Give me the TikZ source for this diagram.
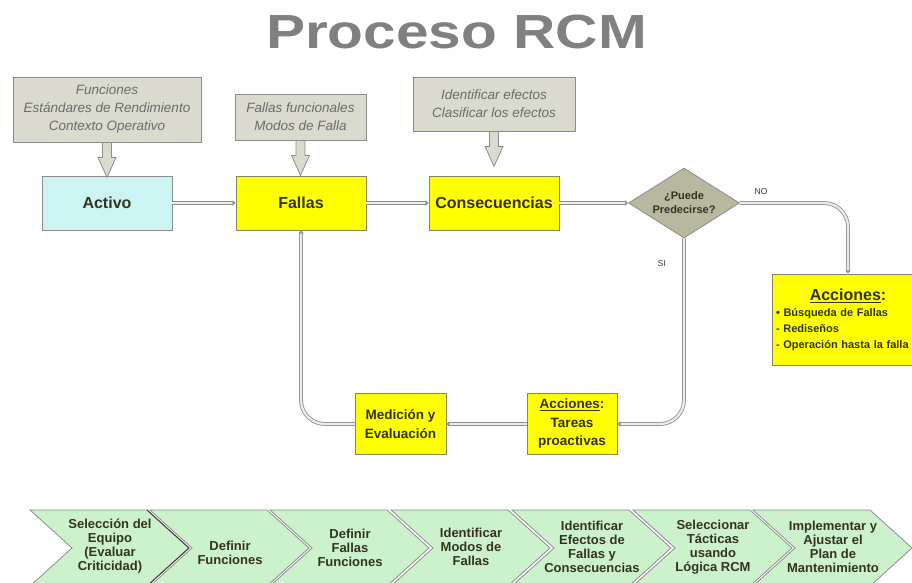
\documentclass[tikz,border=0pt]{standalone}
\usepackage{fontspec}
\setmainfont{Liberation Sans}
\usepackage{graphicx}
\usetikzlibrary{shapes.geometric,arrows.meta}

\definecolor{grisborde}{HTML}{8C8C8C}
\definecolor{grisfondo}{HTML}{DADACE}
\definecolor{gristexto}{HTML}{6B6B6B}
\definecolor{cian}{HTML}{CCF4F2}
\definecolor{amarillo}{HTML}{FFFF00}
\definecolor{oliva}{HTML}{85855F}
\definecolor{caqui}{HTML}{B8B89F}
\definecolor{verde}{HTML}{CCF2CC}
\definecolor{oscuro}{HTML}{33331F}
\definecolor{titulo}{HTML}{808080}

\tikzset{
  nota/.style={draw=grisborde, fill=grisfondo, line width=0.8pt, text=gristexto,
    font=\fontsize{13.5}{18}\selectfont\itshape, align=center, inner sep=0pt},
  caja/.style={draw=grisborde, line width=0.8pt, text=oscuro,
    font=\fontsize{16}{19}\selectfont\bfseries, align=center, inner sep=0pt},
  amarilla/.style={caja, fill=amarillo, draw=oliva},
  bloque/.style={draw=grisborde, fill=grisfondo, line width=0.8pt},
  conector/.style={draw=gray!90, double=gray!15, line width=0.8pt, double distance=2.2pt,
    rounded corners=24pt, -{Latex[length=3pt,width=6pt]}},
  etapa/.style={draw=grisborde, fill=verde, line width=0.8pt},
  etiqueta/.style={text=oscuro, font=\fontsize{13}{14}\selectfont\bfseries, align=center},
  rotulo/.style={text=oscuro, font=\fontsize{8.5}{10}\selectfont},
}

\begin{document}
\begin{tikzpicture}[x=1pt, y=-1pt]
    \useasboundingbox (0,0) rectangle (912,583);

    \node[anchor=base, text=titulo, font=\fontsize{48}{48}\selectfont\bfseries] (titulo) at (456.5,49) {\scalebox{1.22}[1]{Proceso RCM}};

    % notas de entrada
    \node[nota, minimum width=188, minimum height=65] (funciones) at (107,109.5) {Funciones\\Estándares de Rendimiento\\Contexto Operativo};
    \node[nota, minimum width=131, minimum height=46] (modos) at (300.5,117) {Fallas funcionales\\Modos de Falla};
    \node[nota, minimum width=162, minimum height=54] (efectos) at (494,104) {Identificar efectos\\Clasificar los efectos};

    % cajas principales
    \node[caja, fill=cian, minimum width=130, minimum height=54] (activo) at (107,203) {Activo};
    \node[amarilla, minimum width=130, minimum height=54] (fallas) at (301,203) {Fallas};
    \node[amarilla, minimum width=130, minimum height=54] (consec) at (494,203) {Consecuencias};
    \node[diamond, aspect=1.6, draw=grisborde, fill=caqui, line width=0.8pt, minimum width=111, minimum height=70, inner sep=0pt,
        text=oscuro, font=\fontsize{11}{14}\selectfont\bfseries, align=center] (predecir) at (684,203) {¿Puede\\Predecirse?};
    \node[amarilla, font=\fontsize{13.5}{18.5}\selectfont\bfseries, minimum width=91, minimum height=61] (medicion) at (400.5,424) {Medición y\\Evaluación};
    \node[amarilla, font=\fontsize{13.5}{18.5}\selectfont\bfseries, minimum width=90, minimum height=61] (tareas) at (572,424) {\underline{Acciones}:\\Tareas\\proactivas};
    \node[amarilla, minimum width=152, minimum height=91, text width=144, align=left,
        font=\fontsize{11}{16}\selectfont\bfseries] (acciones) at (848,319.5)
        {{\centering\fontsize{16}{22}\selectfont\underline{Acciones}:\par}
         • Búsqueda de Fallas\\- Rediseños\\- Operación hasta la falla};

    % flechas huecas
    \foreach \n in {funciones,modos,efectos}
        \draw[bloque] ([xshift=-4.5pt]\n.south) -- ++(0,15) -- ++(-4.5,0) -- ++(9,20) -- ++(9,-20) -- ++(-4.5,0) -- ++(0,-15) -- cycle;

    % conectores
    \draw[conector] (activo.east) -- (fallas.west);
    \draw[conector] (fallas.east) -- (consec.west);
    \draw[conector] (consec.east) -- (predecir.west);
    \draw[conector] (predecir.east) -| (acciones.north);
    \draw[conector] (predecir.south) |- (tareas.east);
    \draw[conector] (tareas.west) -- (medicion.east);
    \draw[conector] (medicion.west) -| (fallas.south);

    \node[rotulo] (no) at (761,192) {NO};
    \node[rotulo] (si) at (662,264) {SI};

    % etapas del proceso
    \foreach \x/\y/\t [count=\k] in {30/546/{Selección del\\Equipo\\(Evaluar\\Criticidad)}, 150/553/{Definir\\Funciones},
            270/548/{Definir\\Fallas\\Funciones}, 391/547/{Identificar\\Modos de\\Fallas},
            512/547/{Identificar\\Efectos de\\Fallas y\\Consecuencias}, 633/547/{Seleccionar\\Tácticas\\usando\\Lógica RCM},
            753/547/{Implementar y\\Ajustar el\\Plan de\\Mantenimiento}} {
        \draw[etapa] (\x,510) -- ++(117,0) -- ++(42,38) -- ++(-42,38) -- ++(-117,0) -- ++(42,-38) -- cycle;
        \node[etiqueta] (paso\k) at (\x+80,\y) {\t};
    }
    \draw[line width=1pt, black!75] (147,510) -- ++(42,38) -- ++(-42,38);
\end{tikzpicture}
\end{document}
